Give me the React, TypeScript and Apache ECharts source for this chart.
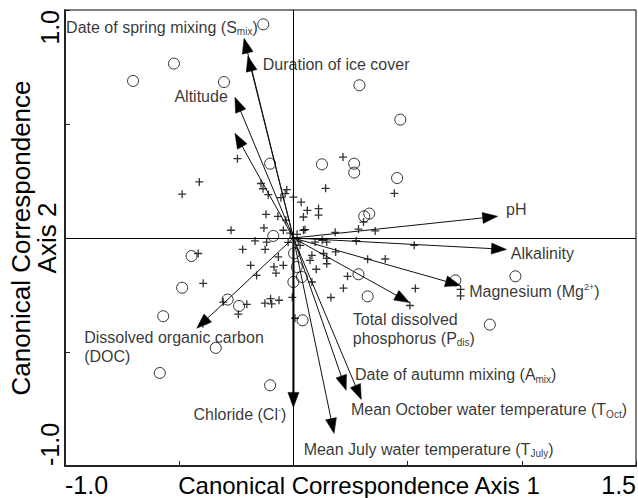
import React, { useEffect, useRef } from "react";
import * as echarts from "echarts";

const FONT = "'Liberation Sans', Arial, Helvetica, sans-serif";

const xTickValues = [-1, 1.5];
const xTickLabels = ["-1.0", "1.5"];
const yTickValues = [-1, 1];
const yTickLabels = ["-1.0", "1.0"];

const xTitle = "Canonical Correspondence Axis 1";
const yTitle = "Canonical Correspondence\nAxis 2";

// lakes shown as open circles
const circleSites: [number, number][] = [
  [-0.132, 0.937], [-0.523, 0.765], [-0.702, 0.689], [-0.304, 0.684], [0.289, 0.67],
  [0.468, 0.519], [-0.102, 0.326], [0.125, 0.323], [0.266, 0.326], [0.266, 0.287],
  [0.454, 0.263], [0.31, 0.095], [0.332, 0.107], [-0.088, 0.009], [-0.446, -0.079],
  [-0.487, -0.218], [-0.288, -0.27], [-0.238, -0.298], [-0.57, -0.343], [-0.34, -0.482],
  [-0.585, -0.592], [-0.102, -0.646], [0.04, -0.361], [0.003, -0.067], [0.015, -0.127],
  [0.037, -0.171], [0.0, -0.193], [0.285, -0.159], [0.325, -0.256], [0.709, -0.186],
  [0.972, -0.168], [0.86, -0.38],
];

// lakes shown as plus signs
const plusSites: [number, number][] = [
  [-0.245, 0.348], [-0.412, 0.246], [-0.487, 0.192], [-0.142, 0.239], [-0.133, 0.216],
  [-0.11, 0.19], [-0.029, 0.212], [-0.036, 0.195], [0.0, 0.179], [-0.055, 0.177],
  [-0.12, 0.104], [-0.068, 0.095], [-0.033, 0.078], [-0.273, 0.034], [-0.129, 0.044],
  [-0.044, 0.034], [-0.168, -0.013], [-0.117, -0.018], [0.217, 0.355], [0.141, 0.218],
  [0.034, 0.157], [0.061, 0.121], [0.044, 0.092], [0.11, 0.129], [0.11, 0.1],
  [0.442, 0.196], [0.051, 0.037], [0.183, 0.025], [0.285, 0.039], [0.307, 0.07],
  [0.358, 0.031], [0.044, 0.034], [-0.222, -0.05], [-0.124, -0.05], [-0.066, -0.083],
  [-0.187, -0.12], [-0.085, -0.127], [-0.044, -0.12], [-0.076, -0.154], [-0.161, -0.164],
  [-0.395, -0.199], [-0.417, -0.068], [-0.307, -0.281], [-0.204, -0.291], [-0.241, -0.334],
  [-0.125, -0.286], [-0.095, -0.289], [-0.1, -0.266], [-0.063, -0.273], [-0.005, -0.26],
  [-0.396, -0.376], [0.007, -0.352], [0.095, -0.018], [0.126, -0.01], [0.146, -0.018],
  [0.275, -0.012], [0.529, -0.032], [0.029, -0.032], [0.081, -0.076], [0.073, -0.098],
  [0.132, -0.068], [0.185, -0.061], [0.146, -0.089], [0.146, -0.113], [0.1, -0.137],
  [0.325, -0.093], [0.402, -0.092], [0.081, -0.193], [0.237, -0.168], [0.219, -0.22],
  [0.164, -0.261], [0.534, -0.221], [0.51, -0.296], [0.732, -0.225], [0.732, -0.254],
  [-0.014, 0.021], [0.016, 0.016], [-0.023, -0.019], [0.021, -0.014], [0.0, 0.0],
];

// environmental variable vectors (arrow tips)
const arrowNames = [
  "Smix", "Duration", "Altitude", "RelDepth", "pH", "Alkalinity", "Magnesium",
  "Pdis", "Amix", "TOct", "TJuly", "Chloride", "DOC",
];
const arrowTips: [number, number][] = [
  [-0.216, 0.876], [-0.199, 0.797], [-0.256, 0.617], [-0.256, 0.459], [0.894, 0.095],
  [0.933, -0.05], [0.731, -0.208], [0.508, -0.283], [0.231, -0.668], [0.297, -0.708],
  [0.178, -0.857], [0.0, -0.743], [-0.423, -0.396],
];

// vector labels
const labelTexts = [
  "Date of spring mixing (S{sub|mix})",
  "Duration of ice cover",
  "Altitude",
  "Ratio of lake-surface area\nto maximum water depth\n(Rel. depth)",
  "pH",
  "Alkalinity",
  "Magnesium (Mg{sup|2+})",
  "Total dissolved\nphosphorus (P{sub|dis})",
  "Date of autumn mixing (A{sub|mix})",
  "Mean October water temperature (T{sub|Oct})",
  "Mean July water temperature (T{sub|July})",
  "Chloride (Cl{sup|-})",
  "Dissolved organic carbon\n(DOC)",
];
const labelAnchors: [number, number][] = [
  [-0.993, 0.92], [-0.132, 0.757], [-0.285, 0.618], [-1.067, 0.557], [0.933, 0.121],
  [0.954, -0.068], [0.772, -0.237], [0.262, -0.32], [0.272, -0.602], [0.254, -0.756],
  [0.047, -0.928], [-0.029, -0.778], [-0.914, -0.4],
];
const labelAlign = [
  "left", "left", "right", "left", "left", "left", "left", "left", "left", "left",
  "left", "right", "left",
];
const labelVAlign = [
  "middle", "middle", "middle", "top", "middle", "middle", "middle", "top", "middle",
  "middle", "middle", "middle", "top",
];

export default function App() {
  const ref = useRef<HTMLDivElement>(null);

  useEffect(() => {
    document.body.style.margin = "0";
    if (!ref.current) return;
    const chart = echarts.init(ref.current, undefined, { renderer: "svg" });

    const tickFmt = (vals: number[], labels: string[]) => (v: number) => {
      const i = vals.findIndex((t) => Math.abs(t - v) < 1e-9);
      return i >= 0 ? labels[i] : "";
    };

    const option: any = {
      animation: false,
      backgroundColor: "#fff",
      grid: {
        left: 65,
        right: 2,
        top: 10,
        bottom: 32,
        containLabel: false,
        outerBoundsMode: "none",
        show: true,
        borderColor: "#000",
        borderWidth: 1,
      },
      xAxis: {
        type: "value",
        min: -1,
        max: 1.5,
        interval: 0.5,
        name: xTitle,
        nameLocation: "middle",
        nameGap: 7,
        nameMoveOverlap: false,
        nameTextStyle: {
          fontSize: 24,
          fontFamily: FONT,
          color: "#000",
          padding: [0, 0, 0, 17],
        },
        axisLine: { show: true, onZero: false, lineStyle: { color: "#222", width: 2 } },
        axisTick: { show: true, inside: true, length: 5, lineStyle: { color: "#222", width: 1 } },
        splitLine: { show: false },
        axisLabel: {
          show: true,
          fontSize: 25,
          fontFamily: FONT,
          color: "#000",
          margin: 6,
          showMinLabel: true,
          showMaxLabel: true,
          alignMinLabel: "left",
          alignMaxLabel: "right",
          formatter: tickFmt(xTickValues, xTickLabels),
        },
      },
      yAxis: {
        type: "value",
        min: -1,
        max: 1,
        interval: 0.5,
        name: yTitle,
        nameLocation: "middle",
        nameGap: 5,
        nameRotate: 90,
        nameMoveOverlap: false,
        nameTextStyle: {
          fontSize: 26,
          lineHeight: 26,
          fontFamily: FONT,
          color: "#000",
        },
        axisLine: { show: true, onZero: false, lineStyle: { color: "#222", width: 2 } },
        axisTick: { show: true, inside: true, length: 5, lineStyle: { color: "#222", width: 1 } },
        splitLine: { show: false },
        axisLabel: {
          show: true,
          rotate: 90,
          fontSize: 25,
          fontFamily: FONT,
          color: "#000",
          margin: 3,
          showMinLabel: true,
          showMaxLabel: true,
          alignMinLabel: "left",
          alignMaxLabel: "right",
          formatter: tickFmt(yTickValues, yTickLabels),
        },
      },
      series: [
        {
          type: "custom",
          name: "vectors",
          data: arrowTips.map((p) => [p[0], p[1]]),
          encode: { x: 0, y: 1 },
          z: 3,
          renderItem: (params: any, api: any) => {
            const tip = api.coord([api.value(0), api.value(1)]);
            const o = api.coord([0, 0]);
            const dx = tip[0] - o[0];
            const dy = tip[1] - o[1];
            const L = Math.hypot(dx, dy) || 1;
            const ux = dx / L;
            const uy = dy / L;
            const headLen = 15;
            const hw = 5.5;
            const bx = tip[0] - ux * headLen;
            const by = tip[1] - uy * headLen;
            const thick = arrowNames[params.dataIndex] === "Chloride";
            return {
              type: "group",
              children: [
                {
                  type: "line",
                  shape: { x1: o[0], y1: o[1], x2: bx + ux * 3, y2: by + uy * 3 },
                  style: { stroke: thick ? "#555" : "#111", lineWidth: thick ? 2.6 : 1 },
                },
                {
                  type: "polygon",
                  shape: {
                    points: [
                      [tip[0], tip[1]],
                      [bx - uy * hw, by + ux * hw],
                      [bx + uy * hw, by - ux * hw],
                    ],
                  },
                  style: { fill: "#000", stroke: "#000", lineWidth: 0.5 },
                },
              ],
            };
          },
        },
        {
          type: "scatter",
          name: "circles",
          data: circleSites,
          symbol: "circle",
          symbolSize: 11,
          z: 4,
          itemStyle: { color: "rgba(0,0,0,0)", borderColor: "#000", borderWidth: 1 },
          markLine: {
            silent: true,
            symbol: ["none", "none"],
            label: { show: false },
            lineStyle: { color: "#000", width: 1, type: "solid" },
            data: [{ xAxis: 0 }, { yAxis: 0 }],
          },
        },
        {
          type: "scatter",
          name: "plus",
          data: plusSites,
          symbol: "path://M0,4L8,4M4,0L4,8",
          symbolSize: 8,
          z: 4,
          itemStyle: { color: "rgba(0,0,0,0)", borderColor: "#000", borderWidth: 1.3 },
        },
        {
          type: "scatter",
          name: "labels",
          symbolSize: 1,
          z: 5,
          itemStyle: { color: "rgba(0,0,0,0)" },
          data: labelAnchors.map((p, i) => ({
            value: [p[0], p[1]],
            label: { align: labelAlign[i], verticalAlign: labelVAlign[i] },
          })),
          label: {
            show: true,
            position: [0, 0],
            fontSize: 16,
            lineHeight: 18.5,
            fontFamily: FONT,
            color: "#000",
            formatter: (p: any) => labelTexts[p.dataIndex],
            rich: {
              sub: { fontSize: 10, fontFamily: FONT, color: "#000", verticalAlign: "bottom" },
              sup: { fontSize: 9, fontFamily: FONT, color: "#000", verticalAlign: "top" },
            },
          },
        },
      ],
    };

    chart.setOption(option);
    return () => chart.dispose();
  }, []);

  return <div ref={ref} style={{ width: 638, height: 498 }} />;
}
